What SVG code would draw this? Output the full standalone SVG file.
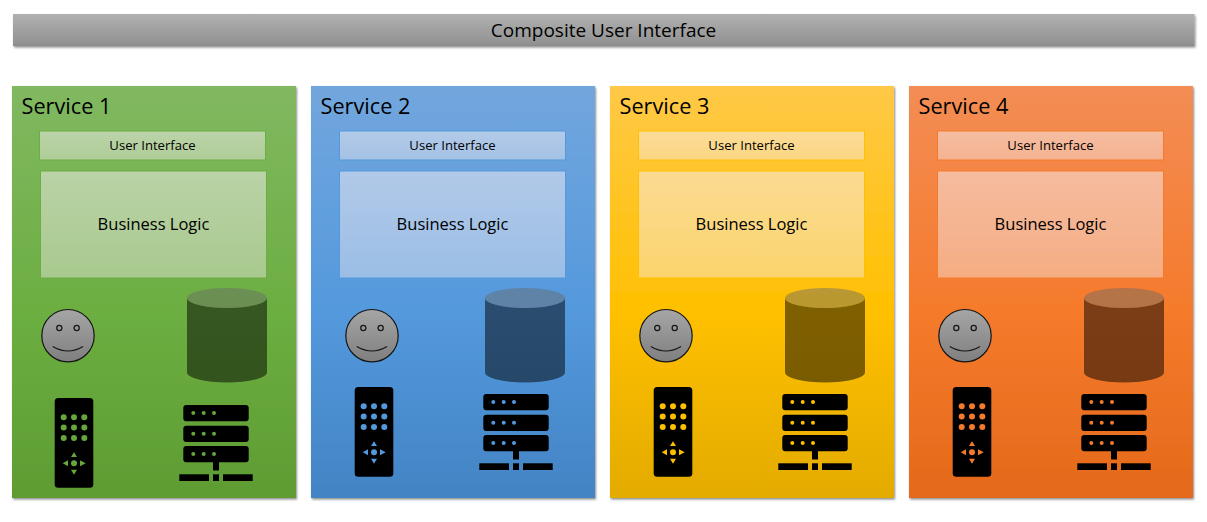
<svg xmlns="http://www.w3.org/2000/svg" width="1207" height="522" viewBox="0 0 1207 522">
<style>
text{font-family:"Open Sans","Noto Sans","Liberation Sans",sans-serif;fill:#000;text-anchor:middle}
.title{font-size:19px}
.svc{font-size:21.700px;text-anchor:start}
.ui{font-size:13.100px}
.bl{font-size:16.500px}
.box{fill:url(#gGlass)}
.logic{fill:url(#gGlass)}
.body{fill:#000;fill-opacity:.5}
.lid{fill:#696969;fill-opacity:.46}
.face{fill:url(#gFace);stroke:#151515;stroke-width:1.200}
.line{fill:none;stroke:#151515;stroke-width:1.200}
</style>
<defs>
<filter id="sh" x="-5%" y="-10%" width="110%" height="125%"><feDropShadow dx="1" dy="1.5" stdDeviation="1.2" flood-color="#000" flood-opacity=".45"/></filter>
<linearGradient id="gGlass" x1="0" y1="0" x2="0" y2="1"><stop offset="0" stop-color="#f6eef2" stop-opacity=".52"/><stop offset="1" stop-color="#f6eef2" stop-opacity=".42"/></linearGradient>
<linearGradient id="gTitle" x1="0" y1="0" x2="0" y2="1"><stop offset="0" stop-color="#b1b1b1"/><stop offset=".9" stop-color="#939393"/><stop offset="1" stop-color="#8a8a8a"/></linearGradient>
<linearGradient id="gFace" x1="0" y1="0" x2="0" y2="1"><stop offset="0" stop-color="#a6a6a6"/><stop offset="1" stop-color="#7f7f7f"/></linearGradient>
<linearGradient id="g1" x1="0" y1="0" x2="0" y2="1"><stop offset="0" stop-color="#81b861"/><stop offset=".55" stop-color="#6cae41"/><stop offset="1" stop-color="#5e9c32"/></linearGradient>
<linearGradient id="g2" x1="0" y1="0" x2="0" y2="1"><stop offset="0" stop-color="#72a6dd"/><stop offset=".55" stop-color="#5499dd"/><stop offset="1" stop-color="#4284c4"/></linearGradient>
<linearGradient id="g3" x1="0" y1="0" x2="0" y2="1"><stop offset="0" stop-color="#ffc947"/><stop offset=".55" stop-color="#ffc000"/><stop offset="1" stop-color="#e3ab00"/></linearGradient>
<linearGradient id="g4" x1="0" y1="0" x2="0" y2="1"><stop offset="0" stop-color="#f38d55"/><stop offset=".55" stop-color="#f57a2b"/><stop offset="1" stop-color="#e4691b"/></linearGradient>
<g id="face">
<circle class="face" cx="26.700" cy="26.700" r="26.200"/>
<circle class="line" cx="18" cy="19" r="2.600"/><circle class="line" cx="35.400" cy="19" r="2.600"/>
<path class="line" d="M11.500 37.500Q26.700 46.500 41.700 37.500"/>
</g>
<g id="cyl">
<path class="body" d="M0 10V84.500A40 10 0 0 0 80 84.500V10A40 10 0 0 1 0 10Z"/>
<ellipse class="lid" cx="40" cy="10" rx="40" ry="10"/>
</g>
<g id="remote">
<rect x="0" y="0" width="38.600" height="89.700" rx="3.500" fill="#000"/>
<g fill="currentColor">
<circle cx="9" cy="19.300" r="3"/><circle cx="19.300" cy="19.300" r="3"/><circle cx="29.600" cy="19.300" r="3"/>
<circle cx="9" cy="29.600" r="3"/><circle cx="19.300" cy="29.600" r="3"/><circle cx="29.600" cy="29.600" r="3"/>
<circle cx="9" cy="40" r="3"/><circle cx="19.300" cy="40" r="3"/><circle cx="29.600" cy="40" r="3"/>
<circle cx="19.300" cy="65.300" r="3"/>
<path d="M19.300 54.300l3 4.700h-6ZM19.300 76.700l3-5h-6ZM8 65.300l5.300-3v6ZM31 65.300l-5.700-3v6Z"/>
</g>
</g>
<g id="server">
<g fill="#000">
<rect x="4" y="0" width="65.400" height="16.300" rx="3"/><rect x="4" y="20.700" width="65.400" height="16.300" rx="3"/><rect x="4" y="41" width="65.400" height="16.300" rx="3"/>
<rect x="33.700" y="57" width="6" height="8.500"/><rect x="0" y="69.300" width="29.700" height="6.700"/><rect x="33.700" y="69.300" width="6" height="6.700"/><rect x="43.700" y="69.300" width="29.700" height="6.700"/>
</g>
<g fill="currentColor">
<circle cx="14" cy="8.100" r="2"/><circle cx="24.400" cy="8.100" r="2"/><circle cx="34.700" cy="8.100" r="2"/>
<circle cx="14" cy="28.800" r="2"/><circle cx="24.400" cy="28.800" r="2"/><circle cx="34.700" cy="28.800" r="2"/>
<circle cx="14" cy="49.100" r="2"/><circle cx="24.400" cy="49.100" r="2"/><circle cx="34.700" cy="49.100" r="2"/>
</g>
</g>
</defs>
<rect width="1207" height="522" fill="#fff"/>
<g id="connectors"/>
<g id="composite-ui">
<rect x="13" y="14" width="1181.500" height="32" fill="url(#gTitle)" filter="url(#sh)"/>
<text class="title" x="603.500" y="36.500">Composite User Interface</text>
</g>

<g id="service-1">
<rect x="12" y="86" width="284" height="412" fill="url(#g1)" filter="url(#sh)"/>
<text class="svc" x="21.500" y="114">Service 1</text>
<g id="ui-1"><rect class="box" x="39.500" y="131" width="226" height="29" stroke="#6cae41"/><text class="ui" x="152.500" y="150">User Interface</text></g>
<g id="logic-1"><rect class="logic" x="40.500" y="171" width="226" height="107" stroke="#6cae41"/><text class="bl" x="153.500" y="230">Business Logic</text></g>
<g id="user-1" transform="translate(41.300 309)"><use href="#face"/></g>
<g id="db-1" transform="translate(187 288)"><use href="#cyl"/></g>
<g id="remote-1" transform="translate(54.700 398)" color="#66a63a"><use href="#remote"/></g>
<g id="server-1" transform="translate(179.300 405)" color="#66a63a"><use href="#server"/></g>
</g>

<g id="service-2">
<rect x="311" y="86" width="284" height="412" fill="url(#g2)" filter="url(#sh)"/>
<text class="svc" x="320.500" y="114">Service 2</text>
<g id="ui-2"><rect class="box" x="339.500" y="131" width="226" height="29" stroke="#5499dd"/><text class="ui" x="452.500" y="150">User Interface</text></g>
<g id="logic-2"><rect class="logic" x="339.500" y="171" width="226" height="107" stroke="#5499dd"/><text class="bl" x="452.500" y="230">Business Logic</text></g>
<g id="user-2" transform="translate(345.300 309)"><use href="#face"/></g>
<g id="db-2" transform="translate(485 288)"><use href="#cyl"/></g>
<g id="remote-2" transform="translate(354.700 387)" color="#5499dd"><use href="#remote"/></g>
<g id="server-2" transform="translate(479.300 394)" color="#5499dd"><use href="#server"/></g>
</g>

<g id="service-3">
<rect x="610" y="86" width="284" height="412" fill="url(#g3)" filter="url(#sh)"/>
<text class="svc" x="619.500" y="114">Service 3</text>
<g id="ui-3"><rect class="box" x="638.500" y="131" width="226" height="29" stroke="#ffc000"/><text class="ui" x="751.500" y="150">User Interface</text></g>
<g id="logic-3"><rect class="logic" x="638.500" y="171" width="226" height="107" stroke="#ffc000"/><text class="bl" x="751.500" y="230">Business Logic</text></g>
<g id="user-3" transform="translate(639.300 309)"><use href="#face"/></g>
<g id="db-3" transform="translate(785 288)"><use href="#cyl"/></g>
<g id="remote-3" transform="translate(653.700 387)" color="#ffc000"><use href="#remote"/></g>
<g id="server-3" transform="translate(778.300 394)" color="#ffc000"><use href="#server"/></g>
</g>

<g id="service-4">
<rect x="909" y="86" width="284" height="412" fill="url(#g4)" filter="url(#sh)"/>
<text class="svc" x="918.500" y="114">Service 4</text>
<g id="ui-4"><rect class="box" x="937.500" y="131" width="226" height="29" stroke="#f57a2b"/><text class="ui" x="1050.500" y="150">User Interface</text></g>
<g id="logic-4"><rect class="logic" x="937.500" y="171" width="226" height="107" stroke="#f57a2b"/><text class="bl" x="1050.500" y="230">Business Logic</text></g>
<g id="user-4" transform="translate(938.300 309)"><use href="#face"/></g>
<g id="db-4" transform="translate(1084 288)"><use href="#cyl"/></g>
<g id="remote-4" transform="translate(952.700 387)" color="#f57a2b"><use href="#remote"/></g>
<g id="server-4" transform="translate(1077.300 394)" color="#f57a2b"><use href="#server"/></g>
</g>
</svg>
